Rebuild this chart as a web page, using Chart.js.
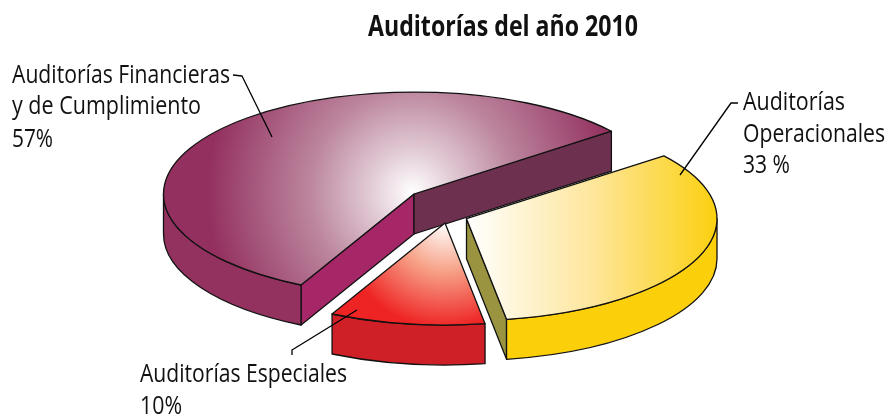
<!DOCTYPE html>
<html><head><meta charset="utf-8">
<script src="https://cdn.jsdelivr.net/npm/chart.js@4"></script>
<style>html,body{margin:0;padding:0;background:#fff}canvas{display:block}</style>
</head><body><canvas id="c" width="886" height="414"></canvas>
<script>
const categories = ['Auditorías Operacionales', 'Auditorías Especiales', 'Auditorías Financieras y de Cumplimiento'];
const values = [33, 10, 57];
const titleText = 'Auditorías del año 2010';
const labelBlocks = [
  ['Auditorías', 'Operacionales', '33 %'],
  ['Auditorías Especiales', '10%'],
  ['Auditorías Financieras', 'y de Cumplimiento', '57%']
];

// Presentation only
const SQUASH = 0.407, DEPTH = 40;
const explode = [[23.5, 11.7], [2, 16], [-29, -13]];
const wallColor = ['#FBCF0A', '#CF2027', '#93315F'];
const faces = [{end: '#9A9440'}, {}, {start: '#A62767', end: '#6E304F'}];
const textPos = [
  [[743, 110, 102], [743, 142, 142], [743, 173, 47]],
  [[140, 382, 207], [140, 414, 42]],
  [[12, 83, 218], [12, 114, 189], [12, 147, 41]]
];
const leaders = [
  [[738, 103], [731, 103], [680, 175]],
  [[292, 355], [292, 350], [357, 310]],
  [[233, 75], [242, 76], [272, 137]]
];

function topFill(ctx, i, cx, cy, r) {
  let g;
  if (i === 0) {
    g = ctx.createLinearGradient(cx, 0, cx + r, 0);
    g.addColorStop(0, '#FFFFFF'); g.addColorStop(0.5, '#FEE69C'); g.addColorStop(1, '#FBD010');
  } else if (i === 1) {
    g = ctx.createRadialGradient(cx, cy, 0, cx, cy, 105);
    g.addColorStop(0, '#FFFFFF'); g.addColorStop(0.45, '#F7A48A'); g.addColorStop(1, '#EE2424');
  } else {
    g = ctx.createRadialGradient(cx - 2, cy - 2, 0, cx - 2, cy - 2, 205);
    g.addColorStop(0, '#FFFFFF'); g.addColorStop(0.2, '#E2CCD6'); g.addColorStop(0.5, '#BC869E'); g.addColorStop(1, '#93305F');
  }
  return g;
}

const pie3d = {
  id: 'pie3d',
  beforeDatasetsDraw(chart) {
    const ctx = chart.ctx, arcs = chart.getDatasetMeta(0).data;
    ctx.save();
    ctx.lineWidth = 1.3; ctx.strokeStyle = '#111'; ctx.lineJoin = 'round';
    [2, 1, 0].forEach(i => {
      const a = arcs[i], r = a.outerRadius, b = r * SQUASH;
      const cx = a.x + explode[i][0], cy = a.y + explode[i][1];
      const s = a.startAngle, e = a.endAngle;
      const face = (ang, col) => {
        if (!col) return;
        const px = cx + r * Math.cos(ang), py = cy + b * Math.sin(ang);
        ctx.beginPath(); ctx.moveTo(cx, cy); ctx.lineTo(px, py);
        ctx.lineTo(px, py + DEPTH); ctx.lineTo(cx, cy + DEPTH); ctx.closePath();
        ctx.fillStyle = col; ctx.fill(); ctx.stroke();
      };
      face(s, faces[i].start); face(e, faces[i].end);
      const w0 = Math.max(s, 0), w1 = Math.min(e, Math.PI);
      if (w1 > w0) {
        ctx.beginPath();
        ctx.ellipse(cx, cy, r, b, 0, w0, w1);
        ctx.ellipse(cx, cy + DEPTH, r, b, 0, w1, w0, true);
        ctx.closePath();
        ctx.fillStyle = wallColor[i]; ctx.fill(); ctx.stroke();
      }
      ctx.beginPath(); ctx.moveTo(cx, cy);
      ctx.ellipse(cx, cy, r, b, 0, s, e);
      ctx.closePath();
      ctx.fillStyle = topFill(ctx, i, cx, cy, r); ctx.fill(); ctx.stroke();
    });
    ctx.strokeStyle = '#000'; ctx.lineWidth = 1.3;
    leaders.forEach(l => {
      ctx.beginPath();
      l.forEach((p, k) => k ? ctx.lineTo(p[0], p[1]) : ctx.moveTo(p[0], p[1]));
      ctx.stroke();
    });
    ctx.fillStyle = '#111'; ctx.textAlign = 'left'; ctx.textBaseline = 'alphabetic';
    ctx.font = '26px "Open Sans"';
    labelBlocks.forEach((lines, i) => lines.forEach((t, k) => {
      const p = textPos[i][k];
      ctx.fillText(t, p[0], p[1], p[2]);
    }));
    ctx.font = 'bold 28px "Open Sans"';
    ctx.fillText(titleText, 368, 36, 270);
    ctx.restore();
    return false;
  }
};

new Chart(document.getElementById('c'), {
  type: 'pie',
  data: { labels: categories, datasets: [{ data: values, backgroundColor: wallColor, borderWidth: 0 }] },
  options: {
    responsive: false, animation: false, radius: 250.5, rotation: 52,
    layout: { padding: 0 },
    plugins: { legend: { display: false }, tooltip: { enabled: false }, title: { display: false } }
  },
  plugins: [pie3d]
});
</script></body></html>
